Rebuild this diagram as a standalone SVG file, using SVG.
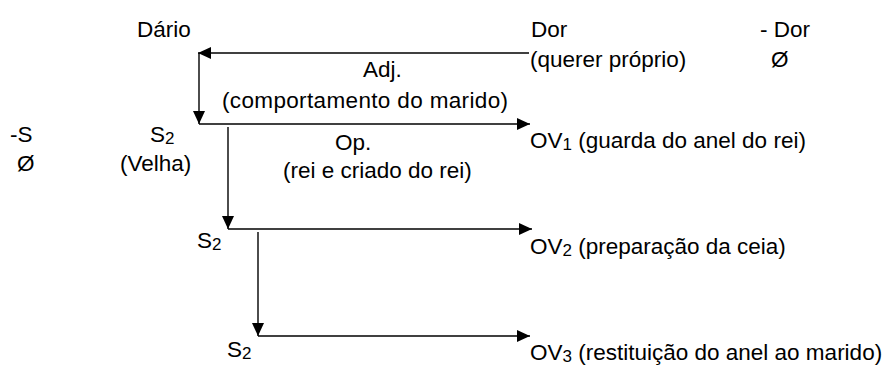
<svg xmlns="http://www.w3.org/2000/svg" width="882" height="365" viewBox="0 0 882 365">
<defs>
<marker id="ah" markerUnits="userSpaceOnUse" markerWidth="14" markerHeight="12" refX="13" refY="6" orient="auto">
<path d="M0,0 L13,6 L0,12 Z" fill="#000"/>
</marker>
<style>
text{font-family:"Liberation Sans",Arial,sans-serif;font-size:22.5px;fill:#000}
.sub{font-size:17px}
.ln{stroke:#000;stroke-width:1.4;fill:none}
.ar{marker-end:url(#ah)}
</style>
</defs>
<rect width="882" height="365" fill="#fff"/>
<g id="connectors">
<path class="ln ar" d="M529,53 H198"/>
<path class="ln ar" d="M199,53 V124"/>
<path class="ln ar" d="M199,124 H530"/>
<path class="ln ar" d="M228,127 V229"/>
<path class="ln ar" d="M228,229 H532"/>
<path class="ln ar" d="M258,232 V336"/>
<path class="ln ar" d="M258,336 H530"/>
</g>
<g id="dario"><text x="137" y="37">Dário</text></g>
<g id="dor"><text x="531" y="37">Dor</text><text x="530" y="67">(querer próprio)</text></g>
<g id="nao-dor"><text x="760" y="37">- Dor</text><text x="771" y="67">Ø</text></g>
<g id="adj"><text x="363" y="77">Adj.</text><text x="222" y="108" textLength="286">(comportamento do marido)</text></g>
<g id="nao-s"><text x="10" y="142">-S</text><text x="17" y="171">Ø</text></g>
<g id="s2-velha"><text x="150" y="142">S<tspan class="sub" dy="2">2</tspan></text><text x="120" y="171">(Velha)</text></g>
<g id="op"><text x="335" y="150">Op.</text><text x="283" y="178">(rei e criado do rei)</text></g>
<g id="ov1"><text x="530" y="148">OV<tspan class="sub" dy="2">1</tspan><tspan dy="-2"> (guarda do anel do rei)</tspan></text></g>
<g id="s2-b"><text x="197" y="248">S<tspan class="sub" dy="2">2</tspan></text></g>
<g id="ov2"><text x="530" y="254">OV<tspan class="sub" dy="2">2</tspan><tspan dy="-2"> (preparação da ceia)</tspan></text></g>
<g id="s2-c"><text x="227" y="357">S<tspan class="sub" dy="2">2</tspan></text></g>
<g id="ov3"><text x="530" y="360">OV<tspan class="sub" dy="2">3</tspan><tspan dy="-2"> (restituição do anel ao marido)</tspan></text></g>
</svg>
